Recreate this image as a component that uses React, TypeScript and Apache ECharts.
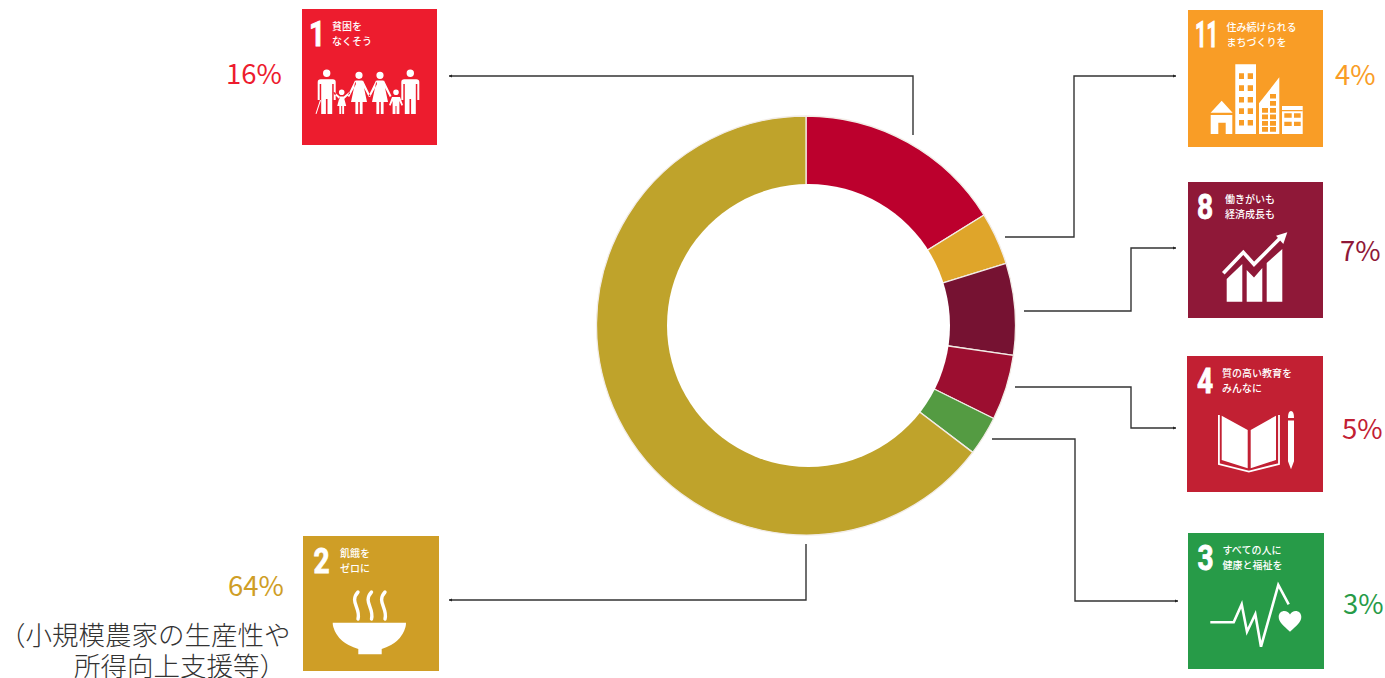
import React, { useEffect, useRef } from "react";
import * as echarts from "echarts";

// Share of each goal, in ring order (clockwise from twelve o'clock)
const goalNumbers = ["1", "11", "8", "4", "3", "2"];
const goalShares = [16, 4, 7, 5, 3, 64];
const sliceColors = ["#BC002D", "#DFA52A", "#761232", "#9C0E30", "#549B42", "#BFA32B"];
const goalColors = ["#ED1C2E", "#F99D26", "#8F1838", "#C22033", "#279B48", "#CF9E26"];
const goalTitles = [
  ["貧困を", "なくそう"],
  ["住み続けられる", "まちづくりを"],
  ["働きがいも", "経済成長も"],
  ["質の高い教育を", "みんなに"],
  ["すべての人に", "健康と福祉を"],
  ["飢餓を", "ゼロに"],
];
const noteLines = ["（小規模農家の生産性や", "所得向上支援等）"];

const JP = '"Noto Sans CJK JP", "Noto Sans", sans-serif';
const WHITE = "#FFFFFF";

// Tile placement: left, top, size, number x and width factor, caption x
const tileBoxes = [
  { x: 302, y: 9, w: 135, h: 136, numX: 7, numScale: 0.78, capX: 30 },
  { x: 1188, y: 10, w: 135, h: 137, numX: 7, numScale: 0.56, capX: 38.5 },
  { x: 1188, y: 182, w: 135, h: 136, numX: 9, numScale: 0.78, capX: 37 },
  { x: 1187, y: 356, w: 136, h: 136, numX: 10, numScale: 0.78, capX: 35 },
  { x: 1188, y: 533, w: 136, h: 136, numX: 9.5, numScale: 0.78, capX: 34.5 },
  { x: 303, y: 536, w: 136, h: 135, numX: 10.5, numScale: 0.78, capX: 37 },
];

// Percent label anchors (left edge, vertical middle)
const percentAnchors = [
  [226, 72], [1335, 73], [1340, 249], [1342, 427], [1343, 602], [228, 584],
];

// Leader lines between the ring and the tiles; the first point carries the tip
const leaders = [
  [[449, 76], [913, 76], [913, 135]],
  [[1176, 76], [1074, 76], [1074, 237], [1005, 237]],
  [[1176, 248], [1131, 248], [1131, 311], [1024, 311]],
  [[1176, 428], [1131, 428], [1131, 387], [1015, 387]],
  [[1178, 601], [1075, 601], [1075, 439], [992, 439]],
  [[449, 600], [806, 600], [806, 544]],
];

const disc = (cx: number, cy: number, r: number) =>
  `M${cx - r} ${cy}A${r} ${r} 0 1 0 ${cx + r} ${cy}A${r} ${r} 0 1 0 ${cx - r} ${cy}Z`;

const man = (c: number) =>
  disc(c, 64.3, 3.7) +
  `M${c - 9} 73Q${c - 9} 70.3 ${c - 6} 70.3L${c + 6} 70.3Q${c + 9} 70.3 ${c + 9} 73L${c + 9} 91L${c + 7} 91L${c + 7} 75L${c + 5.5} 75L${c + 5.5} 105L${c + 0.8} 105L${c + 0.8} 90L${c - 0.8} 90L${c - 0.8} 105L${c - 5.5} 105L${c - 5.5} 75L${c - 7} 75L${c - 7} 91L${c - 9} 91Z`;

const woman = (c: number) =>
  disc(c, 66.3, 3.6) +
  `M${c - 3.5} 71.5L${c + 3.5} 71.5L${c + 8} 93L${c + 3.6} 93L${c + 3.6} 105L${c + 0.8} 105L${c + 0.8} 93L${c - 0.8} 93L${c - 0.8} 105L${c - 3.6} 105L${c - 3.6} 93L${c - 8} 93Z` +
  `M${c - 4} 71.5L${c - 11.5} 87L${c - 9.8} 88L${c - 3} 75Z` +
  `M${c + 4} 71.5L${c + 11.5} 87L${c + 9.8} 88L${c + 3} 75Z`;

const girl = (c: number) =>
  disc(c, 83.3, 2.8) +
  `M${c - 2} 87.5L${c + 2} 87.5L${c + 4.5} 97L${c + 2.4} 97L${c + 2.4} 105L${c + 0.5} 105L${c + 0.5} 97L${c - 0.5} 97L${c - 0.5} 105L${c - 2.4} 105L${c - 2.4} 97L${c - 4.5} 97Z` +
  `M${c - 2} 87.5L${c - 7.5} 83L${c - 8.5} 84.3L${c - 2} 90.5Z` +
  `M${c + 2} 87.5L${c + 7.5} 83L${c + 8.5} 84.3L${c + 2} 90.5Z`;

const boy = (c: number) =>
  disc(c, 83.3, 2.8) +
  `M${c - 4} 88L${c + 4} 88L${c + 7} 96L${c + 5.5} 96.7L${c + 3.4} 92L${c + 3.4} 105L${c + 0.5} 105L${c + 0.5} 97L${c - 0.5} 97L${c - 0.5} 105L${c - 3.4} 105L${c - 3.4} 92L${c - 5.5} 96.7L${c - 7} 96Z`;

const iconFamily = man(24.7) + girl(39.7) + woman(57) + woman(78) + boy(94) + man(108.3) +
  "M18 91L19 91.3L14.5 105L13.5 104.7Z";
const iconCity =
  "M33.7 90.7L44.6 102.8L22.6 102.8Z" +
  "M22.7 105L44.3 105L44.3 124L37.7 124L37.7 112.7L30.3 112.7L30.3 124L22.7 124Z" +
  "M47.3 54.3L68 54.3L68 124L47.3 124Z" +
  "M71 93.3L91.3 67.3L91.3 124L71 124Z" +
  "M94 96L114.7 96L114.7 124L94 124Z";
const iconCityGaps =
  [63.3, 75.3, 87, 98.3, 110].map((y) => `M51 ${y}h5v5.6h-5ZM59.7 ${y}h5.3v5.6h-5.3Z`).join("") +
  [98, 104.5, 111, 117].map((y) => `M74 ${y}h6v4.7h-6ZM82 ${y}h6v4.7h-6Z`).join("") +
  "M82 84h6v4.5h-6ZM82 91h6v4.7h-6Z" +
  "M94 100h20.7v1.2h-20.7ZM96.3 103.3h7.4v4.4h-7.4ZM106 103.3h6.7v4.4h-6.7ZM96.3 111.7h7.4v4.4h-7.4ZM106 111.7h6.7v4.4h-6.7Z";
const iconBars =
  "M38.7 119.7L38.7 97L54.3 82L54.3 119.7Z" +
  "M58.7 119.7L58.7 88L66 95.5L74.3 86L74.3 119.7Z" +
  "M78.7 119.7L78.7 81L94.3 67L94.3 119.7Z";
const iconArrowHead = "M99.3 50.3L95.3 62L88 53.7Z";
const iconBook =
  "M34.7 59.7L60.7 74L60.7 112.3L34.7 104Z" +
  "M63.7 74L89 59.7L89 104L63.7 112.3Z";
const iconPencil =
  "M101 62Q101 55 104 55Q107 55 107 62Z" +
  "M101 64.5L107 64.5L107 105.3L104 113.3L101 105.3Z";
const iconHeart =
  "M102 98.7C96 93 90.7 89.5 90.7 84C90.7 80 93.5 78 96.3 78C98.8 78 100.8 79.3 102 81.5C103.2 79.3 105.2 78 107.7 78C110.5 78 113.3 80 113.3 84C113.3 89.5 108 93 102 98.7Z";
const iconBowl =
  "M29.7 86.7L103 86.7Q103 89 102.5 91Q98 107 78.7 113L78.7 118.3L55.3 118.3L55.3 113Q35 107 30.3 91Q29.7 89 29.7 86.7Z";
const iconSteam = [55, 68.5, 82]
  .map((x) => `M${x} 56C${x - 9} 66 ${x + 3} 72 ${x} 83`)
  .join("");

const shapes: Record<string, string> = {
  sdgFamily: iconFamily,
  sdgCity: iconCity,
  sdgCityGaps: iconCityGaps,
  sdgBars: iconBars,
  sdgArrowHead: iconArrowHead,
  sdgBook: iconBook,
  sdgPencil: iconPencil,
  sdgHeart: iconHeart,
  sdgBowl: iconBowl,
  sdgSteam: iconSteam,
};
Object.keys(shapes).forEach((name) => {
  echarts.graphic.registerShape(name, echarts.graphic.extendPath(shapes[name], {}) as any);
});

const fillShape = (type: string, fill = WHITE) => ({ type, style: { fill } });
const strokeLine = (points: number[][], stroke: string, lineWidth: number) => ({
  type: "polyline",
  shape: { points },
  style: { stroke, lineWidth, fill: "none", lineJoin: "miter" },
});

// Pictogram for each tile, in tile-local coordinates
const tileIcon = (i: number, color: string): any[] => {
  switch (i) {
    case 0:
      return [fillShape("sdgFamily")];
    case 1:
      return [fillShape("sdgCity"), fillShape("sdgCityGaps", color)];
    case 2: {
      const trend = [[35.3, 91.3], [55.3, 70.3], [66, 82.3], [92, 56.3]];
      return [
        fillShape("sdgBars"),
        strokeLine(trend, color, 8),
        strokeLine(trend, WHITE, 3.6),
        fillShape("sdgArrowHead"),
      ];
    }
    case 3:
      return [
        fillShape("sdgBook"),
        strokeLine([[31.9, 59], [31.9, 108], [61.9, 115.6], [92, 108], [92, 59]], WHITE, 1.8),
        fillShape("sdgPencil"),
      ];
    case 4:
      return [
        strokeLine(
          [[22.3, 89.3], [45.7, 89.3], [53.7, 71.3], [59, 98.7], [67.3, 81.3], [73, 113.7], [90.3, 52], [100.7, 71.3]],
          WHITE,
          2.6,
        ),
        fillShape("sdgHeart"),
      ];
    default:
      return [
        fillShape("sdgBowl"),
        { type: "sdgSteam", style: { fill: "none", stroke: WHITE, lineWidth: 3.4, lineCap: "round" } },
      ];
  }
};

const buildTile = (i: number) => {
  const box = tileBoxes[i];
  const color = goalColors[i];
  return {
    type: "group",
    x: box.x,
    y: box.y,
    silent: true,
    children: [
      { type: "rect", shape: { x: 0, y: 0, width: box.w, height: box.h }, style: { fill: color } },
      {
        type: "text",
        x: box.numX,
        y: 24.5,
        scaleX: box.numScale,
        style: {
          text: goalNumbers[i],
          fill: WHITE,
          stroke: WHITE,
          lineWidth: 0.9,
          fontSize: 36,
          fontWeight: 700,
          fontFamily: "Roboto, sans-serif",
          align: "left",
          verticalAlign: "middle",
        },
      },
      ...goalTitles[i].map((line, k) => ({
        type: "text",
        x: box.capX,
        y: 16.5 + k * 15,
        style: {
          text: line,
          fill: WHITE,
          fontSize: 10,
          fontWeight: 500,
          fontFamily: JP,
          align: "left",
          verticalAlign: "middle",
        },
      })),
      ...tileIcon(i, color),
    ],
  };
};

const buildLeader = (points: number[][]) => {
  const [tip, next] = points;
  const dir = next[0] > tip[0] ? 1 : -1;
  return [
    {
      type: "polyline",
      silent: true,
      shape: { points },
      style: { stroke: "#333333", lineWidth: 1.4, fill: "none" },
    },
    {
      type: "polygon",
      silent: true,
      shape: {
        points: [
          [tip[0], tip[1]],
          [tip[0] + dir * 3, tip[1] - 1.6],
          [tip[0] + dir * 3, tip[1] + 1.6],
        ],
      },
      style: { fill: "#222222" },
    },
  ];
};

const percentLabels = goalShares.map((share, i) => ({
  type: "text",
  silent: true,
  x: percentAnchors[i][0],
  y: percentAnchors[i][1],
  style: {
    text: `${share}%`,
    fill: goalColors[i],
    fontSize: 27.5,
    fontWeight: 400,
    fontFamily: JP,
    align: "left",
    verticalAlign: "middle",
  },
}));

const noteTexts = [
  { x: -1, y: 633 },
  { x: 74, y: 664.5 },
].map((pos, i) => ({
  type: "text",
  silent: true,
  x: pos.x,
  y: pos.y,
  style: {
    text: noteLines[i],
    fill: "#333333",
    fontSize: 26.5,
    fontWeight: 300,
    fontFamily: JP,
    align: "left",
    verticalAlign: "middle",
  },
}));

export default function App() {
  const ref = useRef<HTMLDivElement>(null);

  useEffect(() => {
    const chart = echarts.init(ref.current!, undefined, { renderer: "svg" });
    chart.setOption({
      animation: false,
      backgroundColor: "#FFFFFF",
      series: [
        {
          type: "pie",
          center: [806, 325.5],
          radius: [130, 209.5],
          startAngle: 90,
          clockwise: true,
          silent: true,
          label: { show: false },
          labelLine: { show: false },
          itemStyle: { borderColor: "#F2ECE6", borderWidth: 1.3 },
          data: goalShares.map((value, i) => ({
            name: goalNumbers[i],
            value,
            itemStyle: { color: sliceColors[i] },
          })),
        },
      ],
      graphic: {
        elements: [
          // The ring's opening sits slightly right of its outer circle's centre
          {
            type: "circle",
            silent: true,
            z: 100,
            shape: { cx: 808.5, cy: 325.5, r: 141.5 },
            style: { fill: WHITE },
          },
          ...leaders.flatMap(buildLeader),
          ...tileBoxes.map((_, i) => buildTile(i)),
          ...percentLabels,
          ...noteTexts,
        ],
      },
    });
    return () => chart.dispose();
  }, []);

  return (
    <div
      ref={ref}
      style={{ position: "fixed", left: 0, top: 0, width: 1385, height: 678, background: "#FFFFFF" }}
    />
  );
}
